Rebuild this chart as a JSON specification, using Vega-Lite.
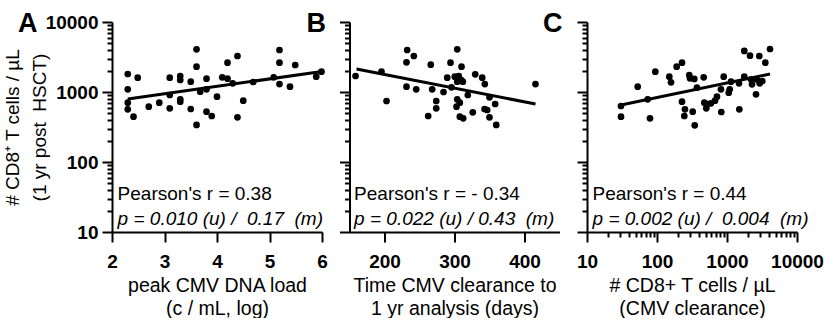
{
  "$schema": "https://vega.github.io/schema/vega-lite/v6.json",
  "background": "white",
  "padding": {"left": 3, "top": 9, "right": 0, "bottom": 0},
  "config": {
    "font": "Liberation Sans",
    "view": {"stroke": null},
    "axis": {
      "domainColor": "black", "domainWidth": 2, "tickColor": "black", "tickWidth": 2, "grid": false,
      "labelFont": "Liberation Sans", "labelFontSize": 19, "labelFontWeight": "bold", "labelColor": "black",
      "titleFont": "Liberation Sans", "titleFontSize": 19.5, "titleFontWeight": "normal", "titleColor": "black",
      "labelFlush": false, "labelOverlap": false
    }
  },
  "datasets": {
    "ptsA": [
      {"x": 2.30, "y": 1808}, {"x": 2.49, "y": 1600}, {"x": 2.30, "y": 1093}, {"x": 2.30, "y": 703}, {"x": 2.30, "y": 566},
      {"x": 2.41, "y": 444}, {"x": 2.70, "y": 617}, {"x": 2.90, "y": 703}, {"x": 3.10, "y": 1600}, {"x": 3.10, "y": 585},
      {"x": 3.10, "y": 906}, {"x": 3.30, "y": 1693}, {"x": 3.30, "y": 1484}, {"x": 3.30, "y": 787}, {"x": 3.30, "y": 727},
      {"x": 3.50, "y": 1403}, {"x": 3.50, "y": 572}, {"x": 3.61, "y": 4074}, {"x": 3.61, "y": 2298}, {"x": 3.61, "y": 338},
      {"x": 3.68, "y": 1010}, {"x": 3.80, "y": 1549}, {"x": 3.80, "y": 1093}, {"x": 3.80, "y": 523}, {"x": 3.90, "y": 454},
      {"x": 4.00, "y": 857}, {"x": 4.10, "y": 1622}, {"x": 4.20, "y": 2624}, {"x": 4.20, "y": 1549}, {"x": 4.30, "y": 1331},
      {"x": 4.39, "y": 3268}, {"x": 4.39, "y": 435}, {"x": 4.50, "y": 751}, {"x": 4.69, "y": 1389}, {"x": 5.19, "y": 3981},
      {"x": 5.19, "y": 2624}, {"x": 5.49, "y": 2430}, {"x": 5.08, "y": 1622}, {"x": 5.19, "y": 1300}, {"x": 5.39, "y": 1191},
      {"x": 5.89, "y": 1655}, {"x": 5.99, "y": 1950}
    ],
    "lineA": [{"x": 2.3, "y": 794}, {"x": 6.0, "y": 1963}],
    "ptsB": [
      {"x": 158.6, "y": 1693}, {"x": 195.7, "y": 1950}, {"x": 202.9, "y": 744}, {"x": 232.4, "y": 3981}, {"x": 241.9, "y": 3268},
      {"x": 231.4, "y": 2655}, {"x": 231.4, "y": 1191}, {"x": 245.3, "y": 1093}, {"x": 266.1, "y": 2455}, {"x": 268.1, "y": 1093},
      {"x": 273.9, "y": 744}, {"x": 273.9, "y": 585}, {"x": 262.4, "y": 454}, {"x": 284.3, "y": 1000}, {"x": 294.3, "y": 2624},
      {"x": 289.6, "y": 1600}, {"x": 295.7, "y": 1167}, {"x": 303.9, "y": 4074}, {"x": 310.0, "y": 2298}, {"x": 300.4, "y": 1655},
      {"x": 306.1, "y": 1693}, {"x": 309.6, "y": 1484}, {"x": 303.9, "y": 1403}, {"x": 311.9, "y": 1403}, {"x": 303.9, "y": 787},
      {"x": 307.6, "y": 703}, {"x": 302.9, "y": 617}, {"x": 307.6, "y": 444}, {"x": 312.4, "y": 421}, {"x": 319.0, "y": 906},
      {"x": 326.1, "y": 513}, {"x": 329.6, "y": 1791}, {"x": 339.6, "y": 1600}, {"x": 343.3, "y": 1300}, {"x": 350.0, "y": 840},
      {"x": 342.9, "y": 572}, {"x": 346.7, "y": 553}, {"x": 358.1, "y": 674}, {"x": 350.0, "y": 435}, {"x": 359.6, "y": 338},
      {"x": 415.7, "y": 1300}
    ],
    "lineB": [{"x": 160, "y": 2131}, {"x": 415.7, "y": 674}],
    "ptsC": [
      {"x": 30.6, "y": 631}, {"x": 30.6, "y": 444}, {"x": 53, "y": 1191}, {"x": 73.6, "y": 787}, {"x": 79.4, "y": 421},
      {"x": 94.6, "y": 1950}, {"x": 150, "y": 1655}, {"x": 158.5, "y": 1377}, {"x": 191, "y": 2298}, {"x": 227.5, "y": 2624},
      {"x": 227.5, "y": 727}, {"x": 251, "y": 566}, {"x": 245.5, "y": 454}, {"x": 289, "y": 1750}, {"x": 296, "y": 1570},
      {"x": 323.6, "y": 523}, {"x": 341, "y": 1535}, {"x": 346, "y": 334}, {"x": 372, "y": 1151}, {"x": 464.5, "y": 1622},
      {"x": 474, "y": 703}, {"x": 506, "y": 585}, {"x": 530, "y": 674}, {"x": 590, "y": 690}, {"x": 674, "y": 751},
      {"x": 719, "y": 857}, {"x": 820, "y": 1093}, {"x": 829, "y": 518}, {"x": 897, "y": 1655}, {"x": 1058, "y": 977},
      {"x": 1093, "y": 1093}, {"x": 1140, "y": 1403}, {"x": 1484, "y": 1331}, {"x": 1500, "y": 566}, {"x": 1766, "y": 3855},
      {"x": 1766, "y": 1655}, {"x": 2131, "y": 3300}, {"x": 2203, "y": 1517}, {"x": 2276, "y": 1288}, {"x": 2597, "y": 927},
      {"x": 2655, "y": 1517}, {"x": 2893, "y": 3268}, {"x": 2929, "y": 1331}, {"x": 3192, "y": 1436}, {"x": 3524, "y": 2624},
      {"x": 4115, "y": 4115}
    ],
    "lineC": [{"x": 30.6, "y": 652}, {"x": 4115, "y": 1808}]
  },
  "bounds": "flush",
  "spacing": 27.5,
  "hconcat": [
    {
      "width": 210, "height": 210,
      "layer": [
        {
          "data": {"name": "ptsA"},
          "mark": {"type": "circle", "color": "black", "size": 45, "opacity": 1},
          "encoding": {
            "x": {"field": "x", "type": "quantitative",
              "scale": {"domain": [2, 6], "nice": false, "zero": false},
              "axis": {"values": [2, 3, 4, 5, 6], "format": "d", "tickSize": 10, "labelPadding": 10,
                "title": ["peak CMV DNA load", "(c / mL, log)"], "titleLineHeight": 23, "titlePadding": 5}},
            "y": {"field": "y", "type": "quantitative",
              "scale": {"type": "log", "domain": [10, 10000], "nice": false},
              "axis": {"values": [10, 20, 30, 40, 50, 60, 70, 80, 90, 100, 200, 300, 400, 500, 600, 700, 800, 900, 1000, 2000, 3000, 4000, 5000, 6000, 7000, 8000, 9000, 10000],
                "format": "d",
                "labelExpr": "indexof([10,100,1000,10000], datum.value) >= 0 ? datum.label : ''",
                "tickSize": {"condition": {"test": "indexof([10,100,1000,10000], datum.value) >= 0", "value": 10}, "value": 5},
                "labelPadding": 4,
                "title": ["# CD8\u207a T cells / \u00b5L", "(1 yr post\u00a0 HSCT)"], "titleFontSize": 19, "titleLineHeight": 27, "titlePadding": -4}}
          }
        },
        {
          "data": {"name": "lineA"},
          "mark": {"type": "line", "color": "black", "strokeWidth": 3},
          "encoding": {"x": {"field": "x", "type": "quantitative"}, "y": {"field": "y", "type": "quantitative"}}
        },
        {
          "data": {"values": [{}]},
          "mark": {"type": "text", "align": "left", "baseline": "alphabetic", "fontSize": 19, "color": "black", "clip": false},
          "encoding": {"x": {"datum": 2.107}, "y": {"datum": 28.6}, "text": {"value": "Pearson's r = 0.38"}}
        },
        {
          "data": {"values": [{}]},
          "mark": {"type": "text", "align": "left", "baseline": "alphabetic", "fontSize": 19, "fontStyle": "italic", "color": "black", "clip": false},
          "encoding": {"x": {"datum": 2.107}, "y": {"datum": 12.6}, "text": {"value": "p = 0.010 (u) /\u00a0 0.17\u00a0 (m)"}}
        },
        {
          "data": {"values": [{}]},
          "mark": {"type": "text", "align": "left", "baseline": "alphabetic", "fontSize": 27, "fontWeight": "bold", "color": "black", "clip": false},
          "encoding": {"x": {"datum": 0.21}, "y": {"datum": 7197}, "text": {"value": "A"}}
        }
      ]
    },
    {
      "width": 210, "height": 210,
      "layer": [
        {
          "data": {"name": "ptsB"},
          "mark": {"type": "circle", "color": "black", "size": 45, "opacity": 1},
          "encoding": {
            "x": {"field": "x", "type": "quantitative",
              "scale": {"domain": [150, 450], "nice": false, "zero": false},
              "axis": {"values": [200, 300, 400], "format": "d", "tickSize": 10, "labelPadding": 10,
                "title": ["Time CMV clearance to", "1 yr analysis (days)"], "titleLineHeight": 23, "titlePadding": 5}},
            "y": {"field": "y", "type": "quantitative",
              "scale": {"type": "log", "domain": [10, 10000], "nice": false},
              "axis": {"values": [10, 20, 30, 40, 50, 60, 70, 80, 90, 100, 200, 300, 400, 500, 600, 700, 800, 900, 1000, 2000, 3000, 4000, 5000, 6000, 7000, 8000, 9000, 10000],
                "labels": false,
                "tickSize": {"condition": {"test": "indexof([10,100,1000,10000], datum.value) >= 0", "value": 10}, "value": 5},
                "title": null}}
          }
        },
        {
          "data": {"name": "lineB"},
          "mark": {"type": "line", "color": "black", "strokeWidth": 3},
          "encoding": {"x": {"field": "x", "type": "quantitative"}, "y": {"field": "y", "type": "quantitative"}}
        },
        {
          "data": {"values": [{}]},
          "mark": {"type": "text", "align": "left", "baseline": "alphabetic", "fontSize": 19, "color": "black", "clip": false},
          "encoding": {"x": {"datum": 156.6}, "y": {"datum": 28.6}, "text": {"value": "Pearson's r = - 0.34"}}
        },
        {
          "data": {"values": [{}]},
          "mark": {"type": "text", "align": "left", "baseline": "alphabetic", "fontSize": 19, "fontStyle": "italic", "color": "black", "clip": false},
          "encoding": {"x": {"datum": 156.6}, "y": {"datum": 12.6}, "text": {"value": "p = 0.022 (u) / 0.43\u00a0 (m)"}}
        },
        {
          "data": {"values": [{}]},
          "mark": {"type": "text", "align": "left", "baseline": "alphabetic", "fontSize": 27, "fontWeight": "bold", "color": "black", "clip": false},
          "encoding": {"x": {"datum": 88.6}, "y": {"datum": 7197}, "text": {"value": "B"}}
        }
      ]
    },
    {
      "width": 210, "height": 210,
      "layer": [
        {
          "data": {"name": "ptsC"},
          "mark": {"type": "circle", "color": "black", "size": 45, "opacity": 1},
          "encoding": {
            "x": {"field": "x", "type": "quantitative",
              "scale": {"type": "log", "domain": [10, 10000], "nice": false},
              "axis": {"values": [10, 20, 30, 40, 50, 60, 70, 80, 90, 100, 200, 300, 400, 500, 600, 700, 800, 900, 1000, 2000, 3000, 4000, 5000, 6000, 7000, 8000, 9000, 10000],
                "format": "d",
                "labelExpr": "indexof([10,100,1000,10000], datum.value) >= 0 ? datum.label : ''",
                "tickSize": {"condition": {"test": "indexof([10,100,1000,10000], datum.value) >= 0", "value": 10}, "value": 5},
                "labelPadding": 10,
                "title": ["# CD8+ T cells / \u00b5L", "(CMV clearance)"], "titleLineHeight": 23, "titlePadding": 5}},
            "y": {"field": "y", "type": "quantitative",
              "scale": {"type": "log", "domain": [10, 10000], "nice": false},
              "axis": {"values": [10, 20, 30, 40, 50, 60, 70, 80, 90, 100, 200, 300, 400, 500, 600, 700, 800, 900, 1000, 2000, 3000, 4000, 5000, 6000, 7000, 8000, 9000, 10000],
                "labels": false,
                "tickSize": {"condition": {"test": "indexof([10,100,1000,10000], datum.value) >= 0", "value": 10}, "value": 5},
                "title": null}}
          }
        },
        {
          "data": {"name": "lineC"},
          "mark": {"type": "line", "color": "black", "strokeWidth": 3},
          "encoding": {"x": {"field": "x", "type": "quantitative"}, "y": {"field": "y", "type": "quantitative"}}
        },
        {
          "data": {"values": [{}]},
          "mark": {"type": "text", "align": "left", "baseline": "alphabetic", "fontSize": 19, "color": "black", "clip": false},
          "encoding": {"x": {"datum": 12.0}, "y": {"datum": 28.6}, "text": {"value": "Pearson's r = 0.44"}}
        },
        {
          "data": {"values": [{}]},
          "mark": {"type": "text", "align": "left", "baseline": "alphabetic", "fontSize": 19, "fontStyle": "italic", "color": "black", "clip": false},
          "encoding": {"x": {"datum": 12.0}, "y": {"datum": 12.6}, "text": {"value": "p = 0.002 (u) /\u00a0 0.004\u00a0 (m)"}}
        },
        {
          "data": {"values": [{}]},
          "mark": {"type": "text", "align": "left", "baseline": "alphabetic", "fontSize": 27, "fontWeight": "bold", "color": "black", "clip": false},
          "encoding": {"x": {"datum": 2.35}, "y": {"datum": 7197}, "text": {"value": "C"}}
        }
      ]
    }
  ]
}
